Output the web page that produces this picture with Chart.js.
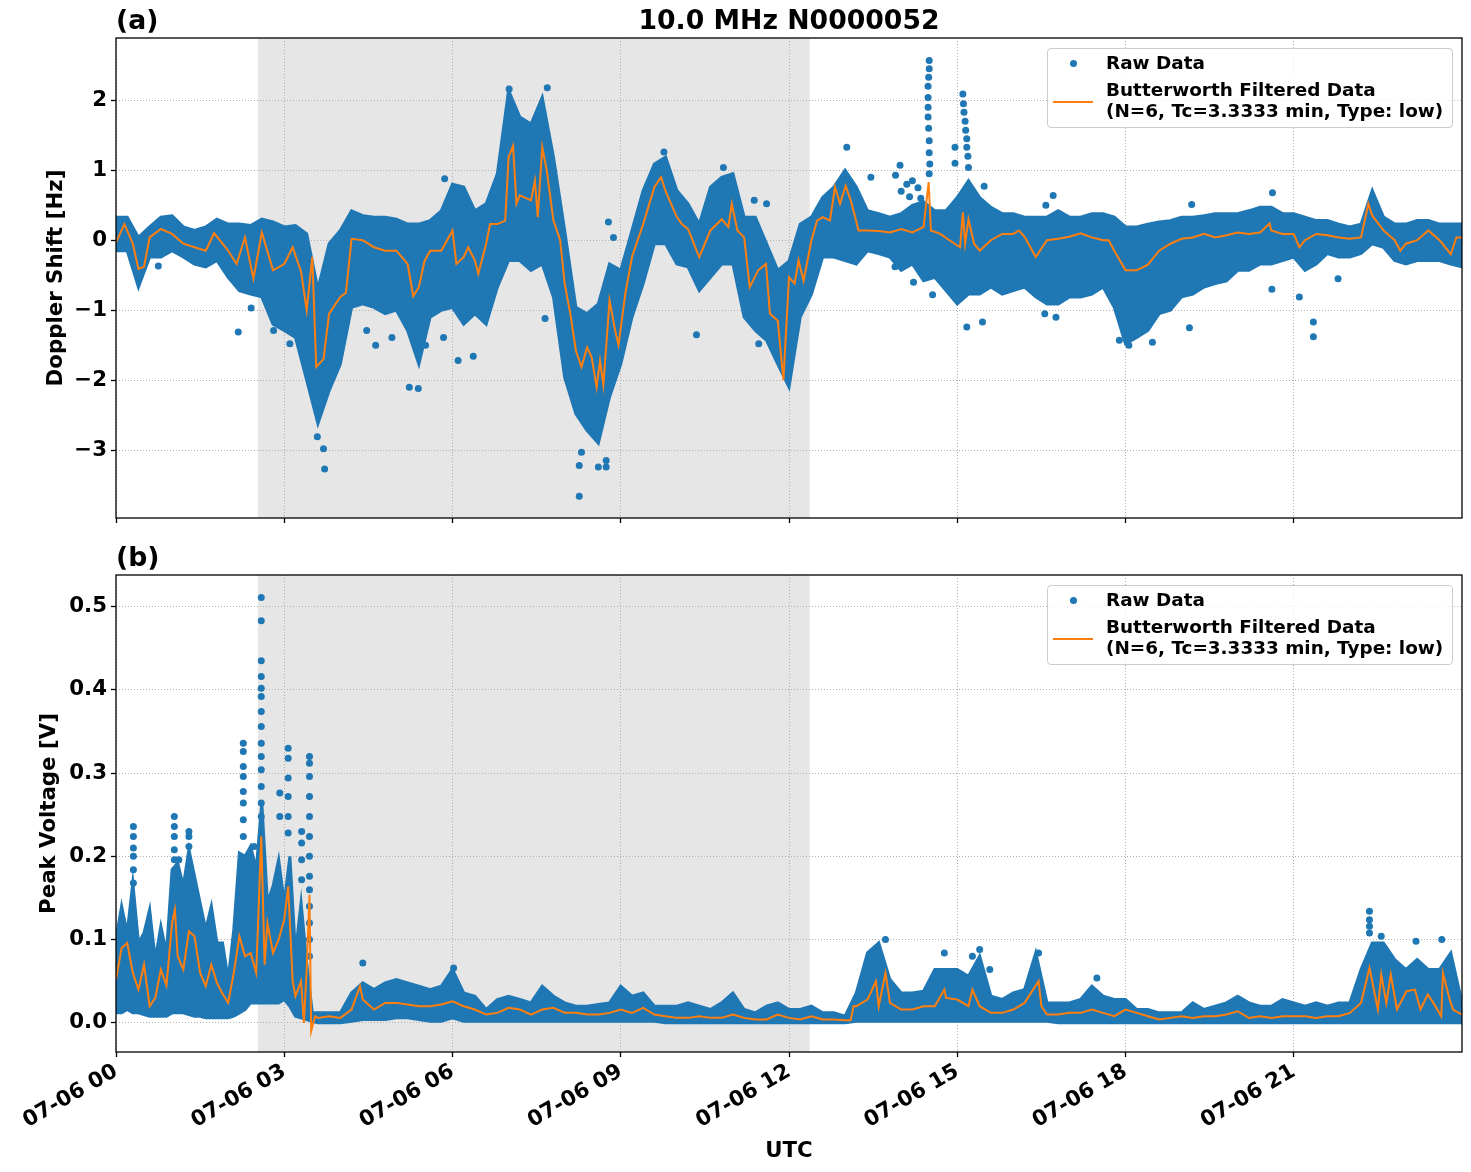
<!DOCTYPE html>
<html>
<head>
<meta charset="utf-8">
<script src="https://cdn.jsdelivr.net/npm/chart.js@4.4.0/dist/chart.umd.min.js"></script>
<style>
body{margin:0;background:#fff;}
#wrap{position:relative;width:1471px;height:1172px;font-family:"DejaVu Sans",sans-serif;}
canvas{position:absolute;left:0;}
.t{position:absolute;white-space:nowrap;font-weight:bold;color:#000;}
.big{font-size:26.7px;line-height:26.7px;}
.leg{font-size:18.4px;line-height:18.4px;}
.box{position:absolute;box-sizing:border-box;border:1px solid #cccccc;border-radius:4px;background:rgba(255,255,255,0.8);}
.dot{position:absolute;width:7px;height:7px;border-radius:50%;background:#1f77b4;}
.ln{position:absolute;width:40px;height:2px;background:#ff7f0e;}
</style>
</head>
<body>
<div id="wrap">
<canvas id="ctxA" width="1471" height="530" style="top:0px"></canvas>
<canvas id="ctxB" width="1471" height="642" style="top:530px"></canvas>

<div class="t big" style="left:116px;top:7px">(a)</div>
<div class="t big" style="left:116px;width:1346px;text-align:center;top:7px">10.0 MHz N0000052</div>
<div class="t big" style="left:116px;top:544px">(b)</div>

<div class="box" style="left:1047px;top:48px;width:406px;height:80px"></div>
<div class="dot" style="left:1069.5px;top:59.5px"></div>
<div class="t leg" style="left:1106px;top:54px">Raw Data</div>
<div class="ln" style="left:1053px;top:100.7px"></div>
<div class="t leg" style="left:1106px;top:80.5px">Butterworth Filtered Data</div>
<div class="t leg" style="left:1106px;top:101.7px">(N=6, Tc=3.3333 min, Type: low)</div>

<div class="box" style="left:1047px;top:585px;width:406px;height:80px"></div>
<div class="dot" style="left:1069.5px;top:596.5px"></div>
<div class="t leg" style="left:1106px;top:591px">Raw Data</div>
<div class="ln" style="left:1053px;top:637.7px"></div>
<div class="t leg" style="left:1106px;top:617.5px">Butterworth Filtered Data</div>
<div class="t leg" style="left:1106px;top:638.7px">(N=6, Tc=3.3333 min, Type: low)</div>
</div>

<script>
// hours since 07-06 00 UTC
const tA = [0,0.2,0.4,0.6,0.8,1,1.2,1.4,1.6,1.8,2,2.2,2.4,2.6,2.8,3,3.2,3.4,3.6,3.8,
  4,4.2,4.4,4.6,4.8,5,5.2,5.4,5.6,5.8,6,6.2,6.4,6.6,6.8,7,7.2,7.4,7.6,7.8,
  8,8.2,8.4,8.6,8.8,9,9.2,9.4,9.6,9.8,10,10.2,10.4,10.6,10.8,11,11.2,11.4,11.6,11.8,
  12,12.2,12.4,12.6,12.8,13,13.2,13.4,13.6,13.8,14,14.2,14.4,14.6,14.8,15,15.2,15.4,15.6,15.8,
  16,16.2,16.4,16.6,16.8,17,17.2,17.4,17.6,17.8,18,18.2,18.4,18.6,18.8,19,19.2,19.4,19.6,19.8,
  20,20.2,20.4,20.6,20.8,21,21.2,21.4,21.6,21.8,22,22.2,22.4,22.6,22.8,23,23.2,23.4,23.6,23.8,24];

// (a) Doppler shift: dense raw data envelope
const hiA = [0.33,0.33,0.04,0.19,0.33,0.35,0.19,0.14,0.19,0.30,0.23,0.23,0.21,0.30,0.26,0.19,0.21,0.09,-0.70,-0.05,
  0.14,0.42,0.35,0.33,0.33,0.30,0.23,0.23,0.28,0.42,0.80,0.76,0.42,0.52,0.95,2.14,1.76,1.66,2.04,1.19,
  0.14,-0.96,-1.05,-0.91,-0.34,-0.43,0.14,0.71,1.09,1.19,0.71,0.52,0.23,0.76,0.90,0.95,0.33,0.33,-0.05,-0.43,
  -0.30,0.23,0.33,0.61,0.76,1.00,0.76,0.42,0.38,0.33,0.38,0.50,0.55,0.42,0.42,0.61,0.85,0.61,0.47,0.38,
  0.38,0.33,0.33,0.33,0.42,0.33,0.33,0.38,0.38,0.33,0.19,0.19,0.23,0.26,0.28,0.33,0.33,0.35,0.38,0.38,
  0.38,0.42,0.47,0.47,0.38,0.38,0.33,0.28,0.28,0.23,0.19,0.23,0.71,0.33,0.23,0.23,0.28,0.28,0.23,0.23,0.23];
const loA = [-0.15,-0.15,-0.67,-0.24,-0.24,-0.15,-0.24,-0.34,-0.38,-0.29,-0.53,-0.72,-0.77,-0.81,-1.20,-1.29,-1.39,-2.00,-2.62,-2.15,
  -1.77,-0.96,-0.91,-0.96,-1.05,-1.00,-1.29,-1.77,-1.10,-1.00,-0.96,-1.20,-1.05,-1.20,-0.67,-0.29,-0.29,-0.43,-0.34,-0.81,
  -1.96,-2.48,-2.72,-2.90,-2.24,-1.77,-1.10,-0.62,-0.05,-0.05,-0.34,-0.38,-0.72,-0.53,-0.34,-0.34,-1.10,-1.29,-1.43,-1.77,
  -2.10,-1.10,-0.77,-0.24,-0.24,-0.29,-0.34,-0.15,-0.19,-0.24,-0.43,-0.34,-0.58,-0.53,-0.72,-0.91,-0.77,-0.77,-0.67,-0.77,
  -0.72,-0.67,-0.81,-0.91,-0.91,-0.81,-0.81,-0.77,-0.67,-0.96,-1.48,-1.39,-1.29,-1.05,-1.00,-0.81,-0.77,-0.67,-0.62,-0.58,
  -0.43,-0.43,-0.34,-0.34,-0.29,-0.24,-0.43,-0.34,-0.19,-0.24,-0.24,-0.19,-0.05,-0.10,-0.29,-0.34,-0.29,-0.29,-0.29,-0.34,-0.38];
// (a) scattered raw points outside the dense band
const outA = [[0.755,-0.37],[2.18,-1.31],[2.41,-0.97],[2.81,-1.29],[3.1,-1.48],[3.72,-3.27],[3.7,-2.98],[3.59,-2.81],
  [5.23,-2.1],[5.39,-2.12],[4.47,-1.29],[4.63,-1.5],[4.92,-1.39],[5.52,-1.5],[5.84,-1.39],[5.86,0.88],
  [8.26,-3.66],[8.26,-3.22],[8.6,-3.24],[8.74,-3.24],[8.74,-3.15],[8.3,-3.03],[6.1,-1.72],[6.37,-1.66],[7.65,-1.12],
  [10.35,-1.35],[8.78,0.26],[8.87,0.04],[11.46,-1.48],[11.6,0.52],[11.38,0.57],[10.83,1.04],[9.77,1.26],[7.69,2.18],[7.01,2.16],
  [14.5,2.57],[14.5,2.45],[14.49,2.33],[14.48,2.2],[14.48,2.04],[14.48,1.9],[14.48,1.76],[14.49,1.6],[14.5,1.42],[14.5,1.25],[14.51,1.09],[14.5,0.95],
  [15.1,2.09],[15.11,1.95],[15.12,1.83],[15.14,1.7],[15.15,1.57],[15.17,1.45],[15.17,1.33],[15.19,1.2],[15.2,1.04],[14.96,1.33],[14.96,1.1],
  [13.03,1.33],[13.98,1.07],[13.46,0.9],[15.48,0.77],[16.71,0.64],[16.58,0.5],[14.1,0.8],[13.9,0.93],
  [14.0,0.7],[14.15,0.62],[14.3,0.75],[14.35,0.6],[14.2,0.85],
  [15.17,-1.24],[13.89,-0.38],[14.22,-0.6],[14.56,-0.78],[15.45,-1.17],[17.89,-1.43],[16.56,-1.05],[16.76,-1.1],
  [20.62,0.68],[19.18,0.51],[21.35,-1.17],[21.35,-1.38],[21.79,-0.55],[18.48,-1.46],[18.06,-1.5],[19.14,-1.25],[20.61,-0.7],[21.1,-0.81]];
// (a) Butterworth filtered line
const filTimeA = [0,0.15,0.3,0.4,0.5,0.6,0.8,1,1.2,1.4,1.6,1.75,1.9,2,2.15,2.3,2.45,2.6,2.8,3,3.15,3.3,3.4,3.5,3.57,3.7,3.8,4,4.1,4.2,
  4.4,4.6,4.8,5,5.2,5.3,5.4,5.5,5.6,5.8,6,6.07,6.2,6.28,6.4,6.46,6.6,6.67,6.8,6.94,7,7.08,7.14,7.2,7.4,7.47,7.52,7.6,7.68,7.8,
  7.92,8,8.1,8.2,8.3,8.4,8.48,8.57,8.63,8.69,8.8,8.9,8.96,9.08,9.2,9.4,9.6,9.72,9.8,10,10.09,10.2,10.4,10.6,10.8,10.92,10.98,11.08,11.2,11.3,
  11.45,11.59,11.66,11.8,11.9,12,12.1,12.17,12.26,12.4,12.5,12.6,12.73,12.82,12.91,13.01,13.1,13.18,13.24,13.4,13.6,13.8,14,14.2,14.4,14.49,14.53,14.7,14.86,15.05,
  15.1,15.14,15.2,15.3,15.4,15.6,15.8,16,16.1,16.2,16.4,16.6,16.8,17,17.2,17.4,17.6,17.7,17.8,18,18.2,18.4,18.6,18.8,19,19.2,19.4,19.6,19.8,20,
  20.2,20.4,20.57,20.6,20.8,21,21.1,21.2,21.4,21.6,21.8,22,22.2,22.33,22.4,22.6,22.8,22.9,23,23.2,23.4,23.6,23.8,23.9,24];
const filA = [-0.03,0.23,-0.05,-0.41,-0.38,0.04,0.16,0.09,-0.05,-0.10,-0.15,0.10,-0.05,-0.15,-0.34,0.04,-0.55,0.11,-0.43,-0.34,-0.10,-0.45,-1.0,-0.24,-1.81,-1.70,-1.05,-0.81,-0.75,0.02,
  0.0,-0.10,-0.15,-0.15,-0.34,-0.80,-0.67,-0.30,-0.15,-0.15,0.14,-0.34,-0.24,-0.10,-0.29,-0.48,-0.05,0.23,0.23,0.28,1.19,1.35,0.52,0.64,0.57,0.85,0.33,1.33,1.00,0.28,
  0.0,-0.62,-1.05,-1.58,-1.81,-1.53,-1.67,-2.10,-1.72,-2.07,-0.86,-1.29,-1.50,-0.77,-0.24,0.23,0.76,0.90,0.70,0.33,0.23,0.16,-0.24,0.14,0.30,0.19,0.52,0.14,0.04,-0.67,
  -0.43,-0.34,-1.05,-1.15,-2.00,-0.53,-0.62,-0.29,-0.58,0.0,0.28,0.33,0.28,0.76,0.52,0.78,0.57,0.33,0.14,0.14,0.13,0.11,0.16,0.11,0.19,0.83,0.14,0.09,0.0,-0.10,
  0.40,-0.05,0.30,-0.05,-0.15,0.0,0.09,0.09,0.14,0.05,-0.24,0.0,0.02,0.05,0.10,0.04,0.0,0.0,-0.15,-0.43,-0.43,-0.35,-0.15,-0.05,0.02,0.04,0.09,0.04,0.07,0.11,
  0.09,0.11,0.24,0.14,0.09,0.09,-0.10,0.0,0.09,0.07,0.04,0.02,0.04,0.52,0.35,0.14,0.0,-0.15,-0.05,0.0,0.14,0.0,-0.20,0.04,0.04];

// (b) Peak voltage: envelope times (finer where the signal is spiky)
const tB = [0,0.1,0.2,0.3,0.4,0.5,0.6,0.7,0.8,0.9,1,1.1,1.2,1.3,1.4,1.5,1.6,1.7,1.8,1.9,
  2,2.1,2.2,2.3,2.4,2.5,2.6,2.7,2.8,2.9,3,3.1,3.2,3.3,3.4,3.5,
  3.6,3.8,4,4.2,4.4,4.6,4.8,5,5.2,5.4,5.6,5.8,6,6.2,6.4,6.6,6.8,7,7.2,7.4,7.6,7.8,
  8,8.2,8.4,8.6,8.8,9,9.2,9.4,9.6,9.8,10,10.2,10.4,10.6,10.8,11,11.2,11.4,11.6,11.8,
  12,12.2,12.4,12.6,12.8,13,13.2,13.4,13.6,13.8,14,14.2,14.4,14.6,14.8,15,15.2,15.4,15.6,15.8,
  16,16.2,16.4,16.6,16.8,17,17.2,17.4,17.6,17.8,18,18.2,18.4,18.6,18.8,19,19.2,19.4,19.6,19.8,
  20,20.2,20.4,20.6,20.8,21,21.2,21.4,21.6,21.8,22,22.2,22.4,22.6,22.8,23,23.2,23.4,23.6,23.8,24];
const hiB = [0.1,0.14,0.108,0.168,0.096,0.108,0.136,0.076,0.116,0.084,0.184,0.192,0.164,0.208,0.176,0.144,0.112,0.14,0.096,0.096,
  0.052,0.112,0.204,0.2,0.212,0.184,0.264,0.144,0.164,0.196,0.144,0.2,0.084,0.144,0.072,0.012,
  0.012,0.012,0.012,0.036,0.048,0.04,0.048,0.052,0.048,0.044,0.04,0.044,0.064,0.036,0.032,0.016,0.028,0.032,0.028,0.024,0.044,0.032,
  0.024,0.02,0.02,0.022,0.024,0.044,0.032,0.036,0.02,0.02,0.02,0.024,0.02,0.016,0.024,0.036,0.016,0.012,0.02,0.024,
  0.016,0.016,0.02,0.012,0.012,0.008,0.036,0.084,0.096,0.052,0.036,0.036,0.038,0.064,0.064,0.064,0.056,0.08,0.032,0.028,
  0.036,0.04,0.084,0.024,0.024,0.024,0.028,0.044,0.032,0.028,0.028,0.016,0.016,0.012,0.012,0.012,0.024,0.016,0.02,0.024,
  0.032,0.024,0.02,0.02,0.028,0.024,0.02,0.024,0.02,0.024,0.024,0.064,0.096,0.096,0.076,0.064,0.076,0.064,0.064,0.084,0.024];
const loB = [0.012,0.012,0.016,0.012,0.012,0.01,0.008,0.008,0.008,0.008,0.012,0.012,0.012,0.01,0.008,0.008,0.006,0.006,0.006,0.006,
  0.006,0.008,0.012,0.016,0.024,0.024,0.024,0.024,0.024,0.024,0.028,0.02,0.008,0.006,0.004,0.002,
  0,0,0,0.002,0.004,0.004,0.004,0.006,0.006,0.004,0.002,0.002,0.006,0.002,0.002,0.002,0.002,0.002,0.002,0.002,0.002,0.002,
  0.002,0.002,0.002,0.002,0.002,0.002,0.002,0.002,0.002,0,0,0,0,0,0,0,0,0,0,0,
  0,0,0,0,0,0,0.002,0.002,0.002,0.002,0.002,0.002,0.002,0.002,0.002,0.002,0.002,0.002,0.002,0.002,
  0.002,0.002,0.002,0.002,0,0,0,0,0,0,0,0,0,0,0,0,0,0,0,0,
  0,0,0,0,0,0,0,0,0,0,0,0,0,0,0,0,0,0,0,0,0];
const outB = [[0.31,0.236],[0.31,0.224],[0.31,0.21],[0.31,0.2],[0.31,0.184],[0.31,0.168],
  [1.04,0.248],[1.04,0.236],[1.04,0.224],[1.04,0.208],[1.04,0.196],[1.3,0.23],[1.3,0.224],[1.3,0.212],[1.12,0.196],
  [2.27,0.336],[2.27,0.326],[2.27,0.308],[2.27,0.296],[2.27,0.278],[2.27,0.264],[2.27,0.244],[2.27,0.224],
  [2.59,0.511],[2.59,0.483],[2.59,0.435],[2.59,0.416],[2.59,0.402],[2.59,0.392],[2.59,0.374],[2.59,0.356],[2.59,0.336],
  [2.59,0.32],[2.59,0.304],[2.59,0.284],[2.59,0.264],[2.59,0.248],[2.46,0.212],[2.92,0.276],[2.92,0.248],
  [3.07,0.33],[3.07,0.318],[3.07,0.294],[3.07,0.272],[3.07,0.248],[3.07,0.228],
  [3.31,0.23],[3.31,0.216],[3.31,0.196],[3.31,0.172],
  [3.45,0.32],[3.45,0.312],[3.45,0.296],[3.45,0.272],[3.45,0.248],[3.45,0.224],[3.45,0.2],[3.45,0.176],[3.45,0.16],
  [3.45,0.14],[3.45,0.12],[3.45,0.1],[3.45,0.08],
  [4.4,0.072],[6.02,0.066],[13.72,0.1],[14.77,0.084],[15.27,0.08],[15.4,0.088],[15.58,0.064],[16.45,0.084],[17.49,0.054],
  [22.35,0.134],[22.35,0.124],[22.35,0.116],[22.35,0.108],[22.56,0.104],[22.56,0.092],[22.73,0.076],[23.18,0.098],[23.64,0.1]];
const filTimeB = [0,0.1,0.2,0.3,0.4,0.5,0.6,0.7,0.8,0.9,1,1.05,1.1,1.2,1.3,1.4,1.5,1.6,1.7,1.8,1.9,2,2.1,2.2,2.3,2.4,2.5,2.59,2.65,2.7,
  2.8,2.9,3,3.07,3.15,3.2,3.3,3.35,3.4,3.45,3.48,3.55,3.6,3.8,4,4.2,4.35,4.4,4.6,4.8,5,5.2,5.4,5.6,5.8,6,6.2,6.4,6.6,6.8,
  7,7.2,7.4,7.6,7.8,8,8.2,8.4,8.6,8.8,9,9.2,9.4,9.6,9.8,10,10.2,10.4,10.6,10.8,11,11.2,11.4,11.6,11.8,12,12.2,12.4,12.6,12.8,
  13,13.1,13.15,13.2,13.4,13.55,13.6,13.72,13.8,14,14.2,14.4,14.6,14.77,14.8,15,15.2,15.27,15.4,15.6,15.8,16,16.2,16.45,16.5,16.6,16.8,17,17.2,17.4,
  17.6,17.8,18,18.2,18.4,18.6,18.8,19,19.2,19.4,19.6,19.8,20,20.2,20.4,20.6,20.8,21,21.2,21.4,21.6,21.8,22,22.2,22.35,22.5,22.56,22.65,22.73,22.84,
  23.01,23.16,23.26,23.39,23.49,23.63,23.66,23.78,23.84,24];
const filB = [0.052,0.09,0.096,0.06,0.04,0.07,0.02,0.03,0.064,0.045,0.12,0.136,0.08,0.064,0.11,0.104,0.06,0.044,0.07,0.048,0.035,0.024,0.06,0.104,0.08,0.084,0.06,0.224,0.07,0.12,
  0.084,0.1,0.124,0.164,0.05,0.032,0.05,0.0,0.064,0.154,-0.01,0.008,0.006,0.008,0.006,0.016,0.044,0.028,0.016,0.024,0.024,0.022,0.02,0.02,0.022,0.026,0.02,0.016,0.01,0.012,
  0.018,0.016,0.01,0.016,0.018,0.012,0.012,0.01,0.01,0.012,0.016,0.012,0.018,0.01,0.008,0.006,0.006,0.008,0.006,0.006,0.01,0.006,0.004,0.004,0.01,0.006,0.004,0.008,0.004,0.004,
  0.003,0.003,0.02,0.02,0.028,0.05,0.02,0.06,0.024,0.016,0.016,0.02,0.02,0.04,0.03,0.028,0.02,0.04,0.02,0.012,0.012,0.016,0.024,0.05,0.02,0.01,0.01,0.012,0.012,0.016,
  0.012,0.008,0.016,0.012,0.008,0.004,0.006,0.008,0.006,0.008,0.008,0.01,0.014,0.006,0.008,0.006,0.008,0.008,0.008,0.006,0.008,0.008,0.012,0.024,0.066,0.016,0.058,0.024,0.058,0.016,
  0.038,0.04,0.016,0.034,0.024,0.008,0.06,0.028,0.016,0.01];

const xTicks = [0,3,6,9,12,15,18,21];
const yTicksA = [-3,-2,-1,0,1,2];
const yTicksB = [0,0.1,0.2,0.3,0.4,0.5];
const nightSpan = [2.53,12.37];

const blue = '#1f77b4';
const orange = '#ff7f0e';
const tickFont = {family:'DejaVu Sans', size:21.3, weight:'bold'};

function pts(xs, ys){ return xs.map((x,i) => ({x:x, y:ys[i]})); }
function pairs(list){ return list.map(p => ({x:p[0], y:p[1]})); }
function noPad(s){ s.paddingTop = 0; s.paddingBottom = 0; s.paddingLeft = 0; s.paddingRight = 0; }

const framePlugin = {
  id:'frame',
  beforeDraw(chart){
    const {ctx, chartArea:a, scales} = chart;
    const x0 = scales.x.getPixelForValue(nightSpan[0]);
    const x1 = scales.x.getPixelForValue(nightSpan[1]);
    ctx.save();
    ctx.fillStyle = 'rgba(128,128,128,0.2)';
    ctx.fillRect(x0, a.top, x1 - x0, a.bottom - a.top);
    ctx.restore();
  },
  afterDraw(chart){
    const {ctx, chartArea:a} = chart;
    ctx.save();
    ctx.strokeStyle = '#000';
    ctx.lineWidth = 1.3;
    ctx.strokeRect(a.left, a.top, a.right - a.left, a.bottom - a.top);
    ctx.restore();
  }
};

function makeChart(id, c){
  return new Chart(document.getElementById(id), {
    type:'line',
    data:{datasets:[
      {label:'Butterworth Filtered Data', data:pts(c.filT, c.fil), borderColor:orange, borderWidth:2, pointRadius:0, fill:false, tension:0, order:0},
      {label:'Raw Data', type:'scatter', data:pairs(c.out), backgroundColor:blue, pointRadius:3.5, borderWidth:0, order:1},
      {label:'raw hi', data:pts(c.t, c.hi), borderColor:blue, backgroundColor:blue, borderWidth:3, pointRadius:0, fill:'+1', tension:0, order:2},
      {label:'raw lo', data:pts(c.t, c.lo), borderColor:blue, borderWidth:3, pointRadius:0, fill:false, tension:0, order:3}
    ]},
    options:{
      responsive:false, animation:false, devicePixelRatio:1,
      layout:{padding:{top:c.padTop, left:c.padLeft, right:9, bottom:0}},
      plugins:{legend:{display:false}, tooltip:{enabled:false}},
      scales:{
        x:{
          type:'linear', min:0, max:24,
          afterBuildTicks: s => { s.ticks = xTicks.map(v => ({value:v})); },
          afterFit: s => { s.height = c.xH; noPad(s); },
          ticks:{display:c.showX, autoSkip:false, minRotation:30, maxRotation:30, padding:2, color:'#000', font:tickFont,
            callback: v => '07-06 ' + String(v).padStart(2,'0')},
          grid:{color:'#b0b0b0', lineWidth:1, tickColor:'#000', tickLength:5, tickWidth:1.3},
          border:{display:false, dash:[1,2]},
          title:{display:c.showX, text:'UTC', color:'#000', font:tickFont, padding:{top:0, bottom:8}}
        },
        y:{
          min:c.yMin, max:c.yMax,
          afterBuildTicks: s => { s.ticks = c.yTicks.map(v => ({value:v})); },
          afterFit: s => { s.width = c.yW; noPad(s); },
          ticks:{padding:4, color:'#000', font:tickFont, callback:c.fmt},
          grid:{color:'#b0b0b0', lineWidth:1, tickColor:'#000', tickLength:5, tickWidth:1.3},
          border:{display:false, dash:[1,2]},
          title:{display:true, text:c.yTitle, color:'#000', font:tickFont, padding:{top:4, bottom:4}}
        }
      }
    },
    plugins:[framePlugin]
  });
}

makeChart('ctxA', {
  t:tA, filT:filTimeA, fil:filA, out:outA, hi:hiA, lo:loA,
  padTop:38, padLeft:40, yW:76, xH:12, showX:false,
  yMin:-3.97, yMax:2.89, yTicks:yTicksA, yTitle:'Doppler Shift [Hz]',
  fmt: v => (v < 0 ? '\u2212' : '') + Math.abs(v)
});
makeChart('ctxB', {
  t:tB, filT:filTimeB, fil:filB, out:outB, hi:hiB, lo:loB,
  padTop:45, padLeft:33, yW:83, xH:120, showX:true,
  yMin:-0.035, yMax:0.538, yTicks:yTicksB, yTitle:'Peak Voltage [V]',
  fmt: v => v.toFixed(1)
});
</script>
</body>
</html>
